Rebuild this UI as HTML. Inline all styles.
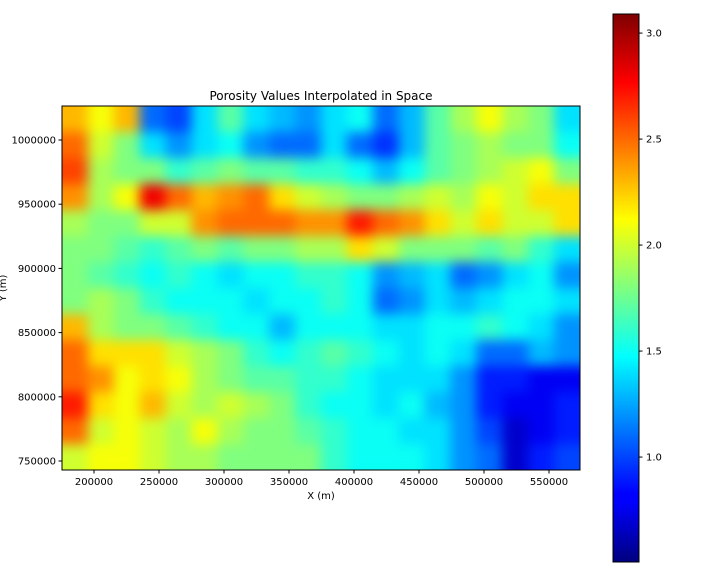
<!DOCTYPE html>
<html><head><meta charset="utf-8"><style>
body{margin:0;background:#fff;}
svg{display:block;font-family:"DejaVu Sans","Liberation Sans",sans-serif;}
</style></head><body>
<svg id="chart" width="720" height="576" xmlns="http://www.w3.org/2000/svg">
<defs>
<filter id="smooth" x="0" y="0" width="1" height="1" color-interpolation-filters="sRGB">
<feGaussianBlur stdDeviation="6" edgeMode="duplicate"/>
<feComponentTransfer><feFuncA type="table" tableValues="1 1"/></feComponentTransfer>
</filter>
<clipPath id="plotclip"><rect x="62" y="106" width="518" height="364"/></clipPath>
<linearGradient id="jetgrad" x1="0" y1="1" x2="0" y2="0">
<stop offset="0" stop-color="#00007f"/><stop offset="0.11" stop-color="#0000ff"/>
<stop offset="0.125" stop-color="#0000ff"/><stop offset="0.375" stop-color="#00ffff"/>
<stop offset="0.5" stop-color="#7fff7f"/><stop offset="0.625" stop-color="#ffff00"/>
<stop offset="0.875" stop-color="#ff0000"/><stop offset="1" stop-color="#7f0000"/>
</linearGradient>
</defs>
<text x="321" y="100" text-anchor="middle" font-size="12">Porosity Values Interpolated in Space</text>
<g clip-path="url(#plotclip)"><g id="cells" filter="url(#smooth)"></g></g>
<rect x="62" y="106" width="518" height="364" fill="none" stroke="#000" stroke-width="1"/>
<g id="xticks"></g>
<g id="yticks"></g>
<text x="321" y="499" text-anchor="middle" font-size="10">X (m)</text>
<text x="0" y="0" transform="translate(6,288) rotate(-90)" text-anchor="middle" font-size="10">Y (m)</text>
<rect x="613" y="14" width="26" height="548" fill="url(#jetgrad)" stroke="#000" stroke-width="1"/>
<g id="cbticks"></g>
</svg>
<script>
const xTicks=[200000,250000,300000,350000,400000,450000,500000,550000];
const yTicks=[750000,800000,850000,900000,950000,1000000];
const cbTicks=[1.0,1.5,2.0,2.5,3.0];
const xDomain=[175385,573846];
const yDomain=[743000,1026480];
const cDomain=[0.505,3.09];
const gridValues=[
[2.3,2.1,2.3,1.1,1.0,1.4,1.7,1.4,1.3,1.2,1.4,1.5,1.1,1.3,1.7,1.9,2.1,1.9,1.8,1.4],
[2.5,2.0,1.8,1.4,1.2,1.4,1.5,1.2,1.1,1.1,1.4,1.1,0.95,1.3,1.7,1.8,1.9,1.8,1.8,1.5],
[2.6,1.9,1.8,1.8,1.6,1.7,1.8,1.7,1.7,1.6,1.6,1.5,1.3,1.5,1.7,1.8,1.9,2.0,2.1,1.8],
[2.4,1.9,2.1,2.8,2.5,2.3,2.4,2.5,2.2,2.0,1.9,1.8,1.8,1.9,2.0,1.9,2.1,2.0,2.2,2.2],
[1.9,1.8,1.8,2.0,2.0,2.4,2.5,2.5,2.5,2.4,2.4,2.7,2.5,2.4,2.2,2.0,2.2,2.0,2.0,2.2],
[1.8,1.8,1.7,1.6,1.7,1.8,1.7,1.8,1.8,1.9,1.9,2.2,2.0,1.8,1.8,1.8,1.7,1.8,1.6,1.4],
[1.8,1.7,1.6,1.5,1.6,1.5,1.4,1.5,1.5,1.6,1.6,1.5,1.2,1.3,1.4,1.1,1.2,1.4,1.5,1.2],
[1.8,1.9,1.8,1.6,1.5,1.5,1.5,1.4,1.5,1.5,1.6,1.5,1.1,1.2,1.4,1.3,1.4,1.5,1.5,1.4],
[2.3,1.9,1.8,1.8,1.7,1.6,1.5,1.5,1.3,1.5,1.5,1.5,1.4,1.4,1.5,1.5,1.6,1.5,1.4,1.2],
[2.5,2.2,2.2,2.2,2.0,1.9,1.8,1.6,1.5,1.6,1.7,1.6,1.5,1.4,1.5,1.4,1.1,1.1,1.3,1.2],
[2.5,2.4,2.1,2.2,2.1,1.9,1.8,1.7,1.7,1.6,1.6,1.5,1.4,1.4,1.4,1.2,0.9,0.9,0.8,0.8],
[2.7,2.2,2.1,2.3,2.0,1.9,2.0,1.9,1.8,1.6,1.5,1.5,1.4,1.5,1.3,1.2,0.9,0.8,0.8,0.9],
[2.5,2.0,2.1,2.0,1.9,2.1,1.9,1.8,1.8,1.7,1.6,1.5,1.5,1.4,1.4,1.2,1.0,0.7,0.8,0.9],
[2.0,2.1,2.1,2.0,1.9,1.9,1.8,1.8,1.8,1.8,1.6,1.5,1.5,1.5,1.4,1.2,1.1,0.7,0.9,1.0]
];
const NS='http://www.w3.org/2000/svg';
const PX=[62,580], PY=[470,106], CY=[562,14];
function sx(v){return PX[0]+(v-xDomain[0])/(xDomain[1]-xDomain[0])*(PX[1]-PX[0]);}
function sy(v){return PY[0]+(v-yDomain[0])/(yDomain[1]-yDomain[0])*(PY[1]-PY[0]);}
function sc(v){return CY[0]+(v-cDomain[0])/(cDomain[1]-cDomain[0])*(CY[1]-CY[0]);}
function cl(x){return Math.max(0,Math.min(1,x));}
function jet(v){const t=cl((v-cDomain[0])/(cDomain[1]-cDomain[0]));
 const r=cl(1.5-Math.abs(4*t-3)),g=cl(1.5-Math.abs(4*t-2)),b=cl(1.5-Math.abs(4*t-1));
 return `rgb(${Math.round(r*255)},${Math.round(g*255)},${Math.round(b*255)})`;}
function mk(tag,attrs,parent){const e=document.createElementNS(NS,tag);for(const k in attrs)e.setAttribute(k,attrs[k]);parent.appendChild(e);return e;}
const rows=gridValues.length, cols=gridValues[0].length;
const cw=(xDomain[1]-xDomain[0])/cols, ch=(yDomain[1]-yDomain[0])/rows;
const cells=document.getElementById('cells');
gridValues.forEach((row,i)=>row.forEach((v,j)=>{
 const x0=sx(xDomain[0]+j*cw), x1=sx(xDomain[0]+(j+1)*cw);
 const yt=sy(yDomain[1]-i*ch), yb=sy(yDomain[1]-(i+1)*ch);
 const r=mk('rect',{x:x0,y:yt,width:x1-x0+0.5,height:yb-yt+0.5,fill:jet(v)},cells);
 
 
}));
const xt=document.getElementById('xticks');
xTicks.forEach(v=>{const x=sx(v);
 const l=mk('line',{x1:x,x2:x,y1:470,y2:473.5,stroke:'#000'},xt);
 
 
 const t=mk('text',{x:x,y:485,'text-anchor':'middle','font-size':10},xt);t.textContent=v;
 
 
});
const yt=document.getElementById('yticks');
yTicks.forEach(v=>{const y=sy(v);
 const l=mk('line',{x1:58.5,x2:62,y1:y,y2:y,stroke:'#000'},yt);
 
 
 const t=mk('text',{x:56,y:y+3.5,'text-anchor':'end','font-size':10},yt);t.textContent=v;
 
 
});
const cb=document.getElementById('cbticks');
cbTicks.forEach(v=>{const y=sc(v);
 const l=mk('line',{x1:639,x2:642.5,y1:y,y2:y,stroke:'#000'},cb);
 
 
 const t=mk('text',{x:646,y:y+3.5,'font-size':10},cb);t.textContent=v.toFixed(1);
 
 
});
</script>
</body></html>
